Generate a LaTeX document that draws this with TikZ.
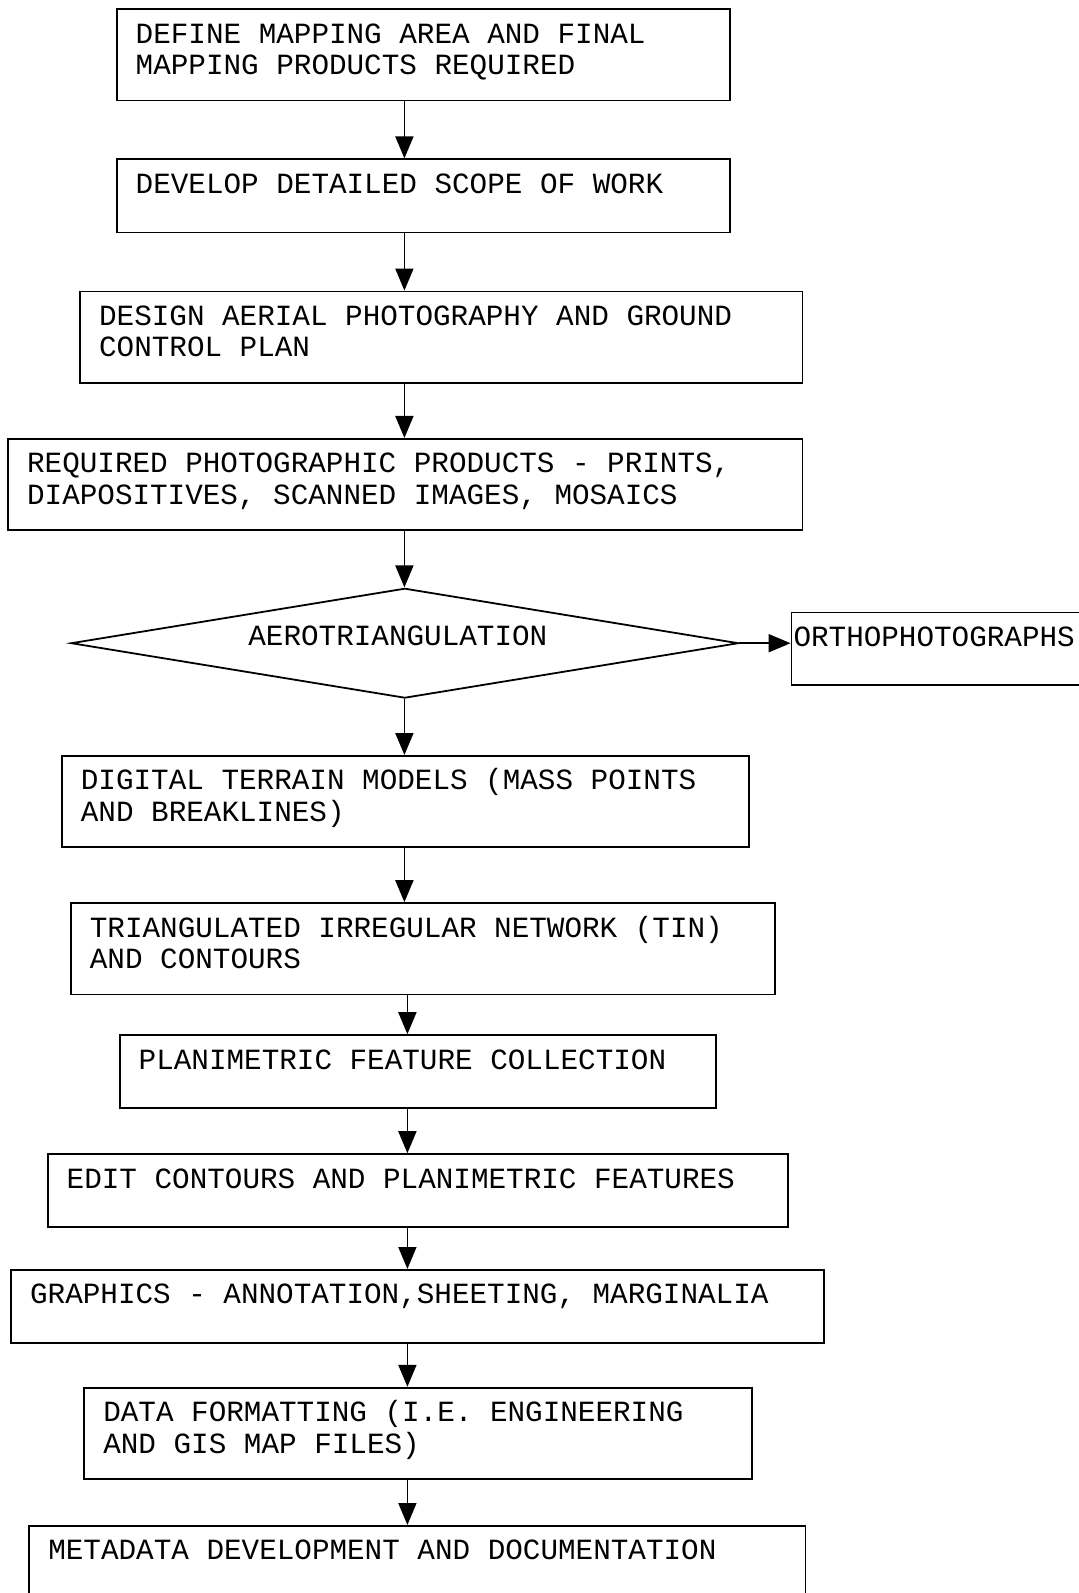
\documentclass[tikz,border=0pt]{standalone}
\usepackage{fontspec}
\setmainfont{Liberation Mono}
\usetikzlibrary{arrows.meta,shapes.geometric}
\tikzset{
  box/.style={draw, line width=0.9pt, inner sep=0pt, anchor=north west},
  dia/.style={draw, diamond, line width=0.9pt, inner sep=0pt, aspect=6},
  arr/.style={line width=0.9pt, -{Triangle[length=11pt,width=9pt]}},
  txt/.style={inner sep=0pt}
}
% #1 name, #2 x, #3 y (down), #4 w, #5 h, #6 pad, #7 text
\newcommand{\flowbox}[7]{%
  \node[box] (#1) at (#2pt,-#3pt)
    {\parbox[t][#5pt][t]{#4pt}{\leftskip=#6pt\rule{0pt}{17pt}#7}};%
}
\begin{document}
\begin{tikzpicture}
\fontsize{14.65pt}{15.75pt}\selectfont
\useasboundingbox (0,0) rectangle (539.5pt,-796.5pt);
\coordinate (xa) at (202.2pt,0);
\coordinate (xb) at (203.7pt,0);

\flowbox{b1}{57.9}{4.1}{306.8}{45.7}{9.5}{DEFINE MAPPING AREA AND FINAL\\MAPPING PRODUCTS REQUIRED}
\flowbox{b2}{57.9}{79.2}{306.8}{36.6}{9.5}{DEVELOP DETAILED SCOPE OF WORK}
\flowbox{b3}{39.6}{145.3}{361.2}{45.7}{9.5}{DESIGN AERIAL PHOTOGRAPHY AND GROUND\\CONTROL PLAN}
\flowbox{b4}{3.6}{219.0}{397.2}{45.7}{9.5}{REQUIRED PHOTOGRAPHIC PRODUCTS - PRINTS,\\DIAPOSITIVES, SCANNED IMAGES, MOSAICS}

\node[dia, minimum width=333.7pt, minimum height=54.9pt] (dia) at (202.4pt,-321.6pt) {};
\node[txt, anchor=base west] (diat) at (124pt,-322.8pt) {AEROTRIANGULATION};
\flowbox{orth}{395.3}{305.8}{150}{36.1}{1}{ORTHOPHOTOGRAPHS}

\flowbox{b5}{30.5}{377.5}{343.4}{45.7}{9.5}{DIGITAL TERRAIN MODELS (MASS POINTS\\AND BREAKLINES)}
\flowbox{b6}{35.0}{451.1}{352.0}{45.7}{9.5}{TRIANGULATED IRREGULAR NETWORK (TIN)\\AND CONTOURS}
\flowbox{b7}{59.4}{517.1}{298.2}{36.6}{9.5}{PLANIMETRIC FEATURE COLLECTION}
\flowbox{b8}{23.4}{576.6}{370.3}{36.6}{9.5}{EDIT CONTOURS AND PLANIMETRIC FEATURES}
\flowbox{b9}{5.1}{634.5}{406.4}{36.6}{9.5}{GRAPHICS - ANNOTATION,SHEETING, MARGINALIA}
\flowbox{b10}{41.7}{693.4}{333.7}{45.7}{9.5}{DATA FORMATTING (I.E. ENGINEERING\\AND GIS MAP FILES)}
\flowbox{b11}{14.2}{762.5}{388.1}{36.6}{9.5}{METADATA DEVELOPMENT AND DOCUMENTATION}

\draw[arr] (b1.south -| xa) -- (b2.north -| xa);
\draw[arr] (b2.south -| xa) -- (b3.north -| xa);
\draw[arr] (b3.south -| xa) -- (b4.north -| xa);
\draw[arr] (b4.south -| xa) -- (dia.north -| xa);
\draw[arr] (dia.east) -- (dia.east -| orth.west);
\draw[arr] (dia.south -| xa) -- (b5.north -| xa);
\draw[arr] (b5.south -| xa) -- (b6.north -| xa);
\draw[arr] (b6.south -| xb) -- (b7.north -| xb);
\draw[arr] (b7.south -| xb) -- (b8.north -| xb);
\draw[arr] (b8.south -| xb) -- (b9.north -| xb);
\draw[arr] (b9.south -| xb) -- (b10.north -| xb);
\draw[arr] (b10.south -| xb) -- (b11.north -| xb);
\end{tikzpicture}
\end{document}
